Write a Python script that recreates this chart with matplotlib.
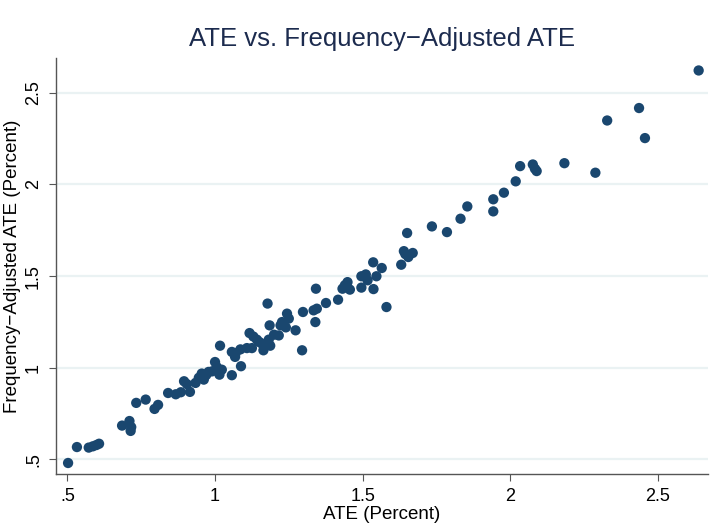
"""Scatter of ATE against frequency-adjusted ATE, Stata-like styling."""

import matplotlib
matplotlib.use("Agg")
import matplotlib.pyplot as plt

# values
ate = [
    0.502, 0.532, 0.572, 0.586, 0.598, 0.607, 0.685, 0.710, 0.716, 0.714,
    0.733, 0.765, 0.795, 0.807, 0.841, 0.867, 0.884, 0.895, 0.905, 0.915,
    0.934, 0.945, 0.955, 0.962, 0.970, 0.978, 0.990, 1.000, 1.006, 1.015,
    1.023, 1.017, 1.057, 1.057, 1.068, 1.070, 1.088, 1.086, 1.108, 1.117,
    1.125, 1.130, 1.142, 1.150, 1.159, 1.164, 1.178, 1.182, 1.187, 1.185,
    1.200, 1.216, 1.222, 1.227, 1.240, 1.244, 1.250, 1.273, 1.295, 1.298,
    1.334, 1.340, 1.342, 1.345, 1.376, 1.417, 1.432, 1.440, 1.449, 1.457,
    1.496, 1.496, 1.511, 1.517, 1.536, 1.537, 1.547, 1.565, 1.581, 1.631,
    1.640, 1.645, 1.651, 1.655, 1.670, 1.735, 1.786, 1.832, 1.855, 1.943,
    1.943, 1.979, 2.019, 2.034, 2.077, 2.084, 2.090, 2.184, 2.289, 2.329,
    2.437, 2.457, 2.639,
]
freq_adj_ate = [
    0.480, 0.567, 0.564, 0.571, 0.578, 0.585, 0.684, 0.709, 0.676, 0.655,
    0.808, 0.826, 0.775, 0.797, 0.862, 0.855, 0.866, 0.926, 0.910, 0.868,
    0.917, 0.945, 0.968, 0.935, 0.960, 0.977, 0.980, 1.031, 1.004, 0.962,
    0.989, 1.120, 0.959, 1.086, 1.059, 1.080, 1.008, 1.100, 1.107, 1.189,
    1.107, 1.170, 1.153, 1.140, 1.131, 1.095, 1.350, 1.153, 1.120, 1.231,
    1.180, 1.176, 1.231, 1.249, 1.220, 1.295, 1.268, 1.204, 1.095, 1.304,
    1.313, 1.249, 1.431, 1.322, 1.353, 1.371, 1.431, 1.450, 1.467, 1.426,
    1.437, 1.499, 1.509, 1.477, 1.575, 1.429, 1.499, 1.544, 1.331, 1.562,
    1.636, 1.620, 1.735, 1.604, 1.626, 1.771, 1.740, 1.813, 1.880, 1.853,
    1.919, 1.955, 2.017, 2.100, 2.109, 2.086, 2.073, 2.116, 2.064, 2.349,
    2.417, 2.253, 2.622,
]
x_ticks = [0.5, 1, 1.5, 2, 2.5]
x_tick_labels = [".5", "1", "1.5", "2", "2.5"]
y_ticks = [0.5, 1, 1.5, 2, 2.5]
y_tick_labels = [".5", "1", "1.5", "2", "2.5"]

plt.rcParams["font.family"] = ["Liberation Sans", "DejaVu Sans"]

fig = plt.figure(figsize=(7.27, 5.29), dpi=100)
ax = fig.add_axes([0.077, 0.104, 0.897, 0.786])

ax.scatter(ate, freq_adj_ate, s=55, color="#1a476f", edgecolors="none", zorder=3)

ax.set_xlim(0.461, 2.671)
ax.set_ylim(0.42, 2.689)
ax.set_xticks(x_ticks)
ax.set_xticklabels(x_tick_labels)
ax.set_yticks(y_ticks)
ax.set_yticklabels(y_tick_labels, rotation=90, va="center")

ax.grid(axis="y", color="#eaf2f3", linewidth=1.6, zorder=0)
ax.set_axisbelow(True)
for side in ["top", "right"]:
    ax.spines[side].set_visible(False)
for side in ["left", "bottom"]:
    ax.spines[side].set_color("#555555")
    ax.spines[side].set_linewidth(1.0)
ax.tick_params(axis="both", direction="out", length=5, color="#555555",
               labelsize=13, labelcolor="black", pad=5)

ax.set_xlabel("ATE (Percent)", fontsize=13.5, labelpad=1)
ax.set_ylabel("Frequency\u2212Adjusted ATE (Percent)", fontsize=13.5, labelpad=3)
ax.set_title("ATE vs. Frequency\u2212Adjusted ATE", fontsize=18.5, color="#1c2b4e", pad=9)

fig.savefig("out.png", dpi=100)
